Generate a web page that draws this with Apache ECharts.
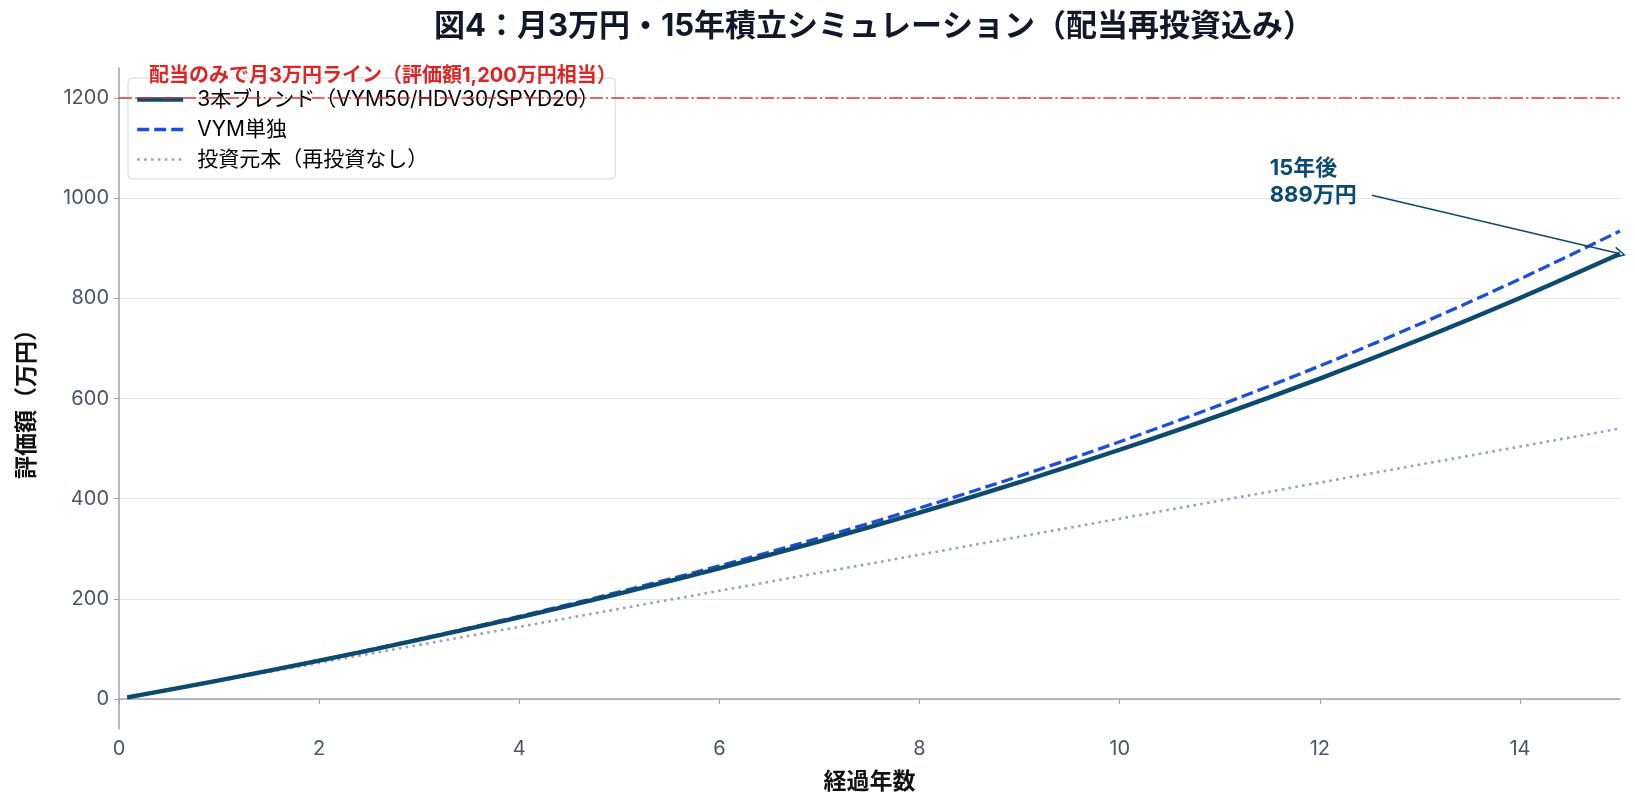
<!DOCTYPE html>
<html lang="ja">
<head>
<meta charset="utf-8">
<title>月3万円・15年積立シミュレーション</title>
<script src="https://cdn.jsdelivr.net/npm/echarts@6/dist/echarts.min.js"></script>
<style>
  html, body { margin: 0; padding: 0; background: #fff; }
  #chart { width: 1635px; height: 810px; }
</style>
</head>
<body>
<div id="chart"></div>
<script>
// 経過年数（最初の点は1ヶ月目）
const years = [0.083, 1, 2, 3, 4, 5, 6, 7, 8, 9, 10, 11, 12, 13, 14, 15]
// 評価額（万円）
const blendValues = [3, 37.0, 76.5, 118.4, 163.0, 210.5, 261.0, 314.8, 372.0, 432.8, 497.6, 566.4, 639.7, 717.7, 800.7, 889.0]
const vymValues = [3, 37.1, 76.9, 119.4, 164.9, 213.7, 265.8, 321.6, 381.3, 445.2, 513.6, 586.7, 665.0, 748.8, 838.5, 934.5]
const principalValues = [3, 36, 72, 108, 144, 180, 216, 252, 288, 324, 360, 396, 432, 468, 504, 540]

const seriesNames = ['3本ブレンド（VYM50/HDV30/SPYD20）', 'VYM単独', '投資元本（再投資なし）']
const xTicks = [0, 2, 4, 6, 8, 10, 12, 14]
const yTicks = [0, 200, 400, 600, 800, 1000, 1200]
const targetLine = 1200
const finalBlend = 889

const FONT = 'Inter, "Noto Sans CJK JP", sans-serif'
const pairs = vals => years.map((y, i) => [y, vals[i]])

// 開いた矢印（->）
const openArrow = 'path://M0,10 L5,0 L10,10 L8.8,10.6 L5,2.6 L1.2,10.6 Z'

const chart = echarts.init(document.getElementById('chart'))

const option = {
  animation: false,
  textStyle: { fontFamily: FONT },
  title: {
    text: '図4：月3万円・15年積立シミュレーション（配当再投資込み）',
    left: 869,
    textAlign: 'center',
    top: 6,
    textStyle: { fontSize: 31, fontWeight: 'bold', color: '#111827', fontFamily: FONT }
  },
  legend: {
    left: 128,
    top: 78,
    orient: 'vertical',
    itemWidth: 46,
    itemHeight: 14,
    itemGap: 9,
    padding: [11, 16, 9, 7],
    backgroundColor: 'rgba(255,255,255,0.92)',
    borderColor: '#d1d5db',
    borderWidth: 1,
    borderRadius: 4,
    itemStyle: { opacity: 0 },
    textStyle: { fontSize: 21, color: '#000', fontFamily: FONT, padding: [0, 0, 0, 9] },
    data: [
      { name: seriesNames[0], lineStyle: { width: 4.4 } },
      { name: seriesNames[1], lineStyle: { width: 3.3 } },
      { name: seriesNames[2], lineStyle: { width: 2.6 } }
    ]
  },
  grid: { left: 119, right: 15, top: 68, bottom: 81 },
  xAxis: {
    type: 'value',
    min: 0,
    max: 15,
    name: '経過年数',
    nameLocation: 'middle',
    nameGap: 42,
    nameTextStyle: { fontSize: 23, fontWeight: 'bold', color: '#111', fontFamily: FONT },
    axisLine: { lineStyle: { color: '#9ca3af', width: 1.5 } },
    axisTick: { show: true, length: 5, lineStyle: { color: '#9ca3af' }, customValues: xTicks },
    axisLabel: { fontSize: 20, color: '#4b5563', margin: 10, customValues: xTicks },
    splitLine: { show: false }
  },
  yAxis: {
    type: 'value',
    min: -60,
    max: 1260,
    name: '評価額（万円）',
    nameLocation: 'middle',
    nameGap: 80,
    nameTextStyle: { fontSize: 23, fontWeight: 'bold', color: '#111', fontFamily: FONT },
    axisLine: { show: true, lineStyle: { color: '#9ca3af', width: 1.5 } },
    axisTick: { show: true, length: 5, lineStyle: { color: '#9ca3af' }, customValues: yTicks },
    axisLabel: { fontSize: 20, color: '#4b5563', margin: 10, customValues: yTicks, formatter: v => String(v) },
    splitLine: { show: true, lineStyle: { color: '#e5e7eb', width: 1.2 } }
  },
  series: [
    {
      name: seriesNames[0],
      type: 'line',
      data: pairs(blendValues),
      symbol: 'none',
      smooth: 0.3,
      z: 5,
      lineStyle: { color: '#0c4a6e', width: 4.4 },
      itemStyle: { color: '#0c4a6e' },
      markPoint: {
        silent: true,
        symbol: 'circle',
        symbolSize: 0,
        data: [{
          coord: [11.5, 1032],
          label: {
            show: true,
            position: 'inside',
            align: 'left',
            verticalAlign: 'middle',
            formatter: '15年後\n' + finalBlend + '万円',
            fontSize: 22,
            lineHeight: 27,
            fontWeight: 'bold',
            color: '#0c4a6e',
            fontFamily: FONT
          }
        }]
      },
      markLine: {
        silent: true,
        symbol: ['none', openArrow],
        symbolSize: [12, 12],
        label: { show: false },
        lineStyle: { color: '#0c4a6e', width: 1.6, type: 'solid' },
        data: [[{ coord: [12.52, 1006] }, { coord: [15, finalBlend] }]]
      }
    },
    {
      name: seriesNames[1],
      type: 'line',
      data: pairs(vymValues),
      symbol: 'none',
      smooth: 0.3,
      z: 4,
      lineStyle: { color: '#1d4ed8', width: 3.3, type: [12, 5] },
      itemStyle: { color: '#1d4ed8' }
    },
    {
      name: seriesNames[2],
      type: 'line',
      data: pairs(principalValues),
      symbol: 'none',
      z: 3,
      lineStyle: { color: '#94a3b8', width: 2.6, type: [2.6, 4.3] },
      itemStyle: { color: '#94a3b8' },
      markLine: {
        silent: true,
        symbol: ['none', 'none'],
        lineStyle: { color: 'rgba(220,38,38,0.7)', width: 2, type: [13, 3.2, 2, 3.2] },
        label: {
          show: true,
          position: 'insideStartTop',
          distance: [30, 12],
          formatter: '配当のみで月3万円ライン（評価額1,200万円相当）',
          fontSize: 20,
          fontWeight: 'bold',
          color: '#dc2626',
          fontFamily: FONT
        },
        data: [{ yAxis: targetLine }]
      }
    }
  ]
}

chart.setOption(option)
</script>
</body>
</html>
